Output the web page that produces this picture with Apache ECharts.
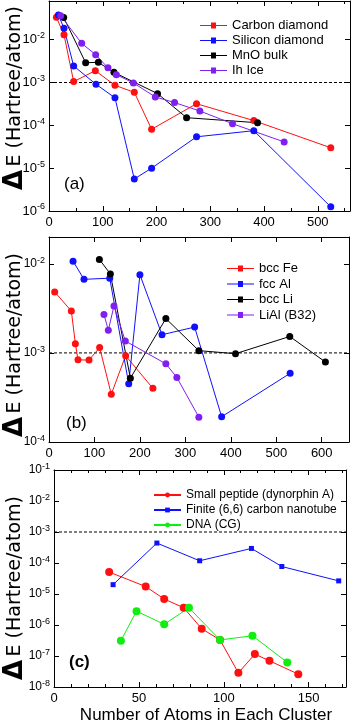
<!DOCTYPE html>
<html><head><meta charset="utf-8">
<script src="https://cdn.jsdelivr.net/npm/echarts@6/dist/echarts.min.js"></script>
<style>html,body{margin:0;padding:0;background:#fff}#c{width:351px;height:723px}</style>
</head><body><div id="c"></div>
<script>
// ---- Panel (a) ----
const carbonDiamond = [[13.8,0.0333],[27.9,0.0131],[45.9,1.05e-3],[86.2,1.89e-3],[122.7,8.6e-4],[158.7,5.9e-4],[190.9,8.1e-5],[274.5,3.2e-4],[381,1.29e-4],[524.2,3.0e-5]];
const siliconDiamond = [[17.5,0.0378],[27.9,0.0185],[45.9,2.43e-3],[87.4,9.1e-4],[122.7,4.4e-4],[158.7,5.6e-6],[190.9,1.0e-5],[274.5,5.4e-5],[381,7.5e-5],[524.2,1.25e-6]];
const mnoBulk = [[27.3,0.033],[68.2,2.9e-3],[91.8,2.96e-3],[120.8,1.73e-3],[202,5.5e-4],[256,1.51e-4],[388,1.15e-4]];
const ihIce = [[21.7,0.0364],[60.8,8.2e-3],[86.8,4.47e-3],[109.7,2.2e-3],[125.3,1.52e-3],[156.9,9.8e-4],[197.8,4.6e-4],[233.6,3.4e-4],[280.7,2.16e-4],[341.4,1.09e-4],[437.5,4.1e-5]];
// ---- Panel (b) ----
const bccFe = [[12.5,4.84e-3],[49.2,2.95e-3],[58,1.27e-3],[63.8,8.36e-4],[88,8.3e-4],[111.4,1.15e-3],[137,3.44e-4],[168.6,9.3e-4],[228.6,4.0e-4]];
const fccAl = [[52.9,0.0107],[77,6.7e-3],[133.6,6.9e-3],[175.4,4.5e-4],[200,7.55e-3],[248.6,1.6e-3],[320.4,1.95e-3],[379.8,1.92e-4],[530.5,5.9e-4]];
const bccLi = [[110.8,0.0112],[135,7.7e-3],[179,5.2e-4],[257.1,2.43e-3],[329.7,1.06e-3],[410.3,9.8e-4],[529.7,1.53e-3],[608.1,7.9e-4]];
const liAl = [[120.9,2.7e-3],[130.5,1.8e-3],[142.9,3.36e-3],[167.9,1.36e-3],[257.1,7.55e-4],[281.3,5.3e-4],[329.7,1.9e-4]];
// ---- Panel (c) ----
const peptide = [[32.5,5.1e-5],[54,1.74e-5],[64.9,6.9e-6],[76.4,3.6e-6],[87,7.6e-7],[97.8,3.3e-7],[108.6,2.86e-8],[118.3,1.15e-7],[126.9,7.0e-8],[143.9,2.6e-8]];
const nanotube = [[34.8,2.0e-5],[60.6,4.4e-4],[85.8,1.18e-4],[116.3,2.95e-4],[134.2,7.7e-5],[167.7,2.65e-5]];
const dna = [[39.4,3.1e-7],[48.6,2.8e-6],[64.9,1.05e-6],[79.5,3.6e-6],[97.8,3.3e-7],[116.9,4.5e-7],[137.4,6.2e-8]];

const threshold = 1e-3;
const xMaxA = 560, xMaxB = 660, xMaxC = 172;
const namesA = ['Carbon diamond','Silicon diamond','MnO bulk','Ih Ice'];
const namesB = ['bcc Fe','fcc Al','bcc Li','LiAl (B32)'];
const namesC = ['Small peptide (dynorphin A)','Finite (6,6) carbon nanotube','DNA (CG)'];
const xTitle = 'Number of Atoms in Each Cluster';

const RED='#ff1010', BLUE='#1010ff', BLACK='#000000', PURPLE='#8020f0', GREEN='#10ee10';
const FONT = '"Liberation Sans", Arial, Helvetica, sans-serif';
const LEG_ICON = 'path://M0,2.5h11v-2.5h5v2.5h11v1h-11v2.5h-5v-2.5h-11z';

const chart = echarts.init(document.getElementById('c'));

function xAx(grid, min, max, interval, minorSplit, show) {
  return {
    type:'value', gridIndex:grid, min:min, max:max, interval:interval,
    position: show ? 'bottom' : 'top',
    axisLine:{show:true, onZero:false, lineStyle:{color:'#000', width:1}},
    axisTick:{show:true, inside:true, length:5, lineStyle:{color:'#000'}},
    minorTick:{show: minorSplit>0, splitNumber: minorSplit||5, length:3, lineStyle:{color:'#000'}},
    splitLine:{show:false},
    axisLabel:{show:show, color:'#000', fontFamily:FONT, fontSize:13, margin:5, showMaxLabel:false}
  };
}
function yAx(grid, min, max, show, fs) {
  return {
    type:'log', logBase:10, gridIndex:grid, min:min, max:max, splitNumber:10,
    position: show ? 'left' : 'right',
    axisLine:{show:true, onZero:false, lineStyle:{color:'#000', width:1}},
    axisTick:{show:true, inside:true, length:5, lineStyle:{color:'#000'}},
    splitLine:{show:false},
    axisLabel:{show:show, margin:4, showMaxLabel: (Math.abs(Math.log10(max)-Math.round(Math.log10(max)))<1e-6),
      formatter:function(v){ const e=Math.round(Math.log10(v)); return '{a|10}{b|'+e+'}'; },
      rich:{a:{fontSize:fs, fontFamily:FONT, color:'#000', lineHeight:fs+4},
            b:{fontSize:9, fontFamily:FONT, color:'#000', verticalAlign:'top', lineHeight:fs+4}}}
  };
}
function ser(name, data, color, xi, yi, sym, size) {
  return {
    name:name, type:'line', data:data, xAxisIndex:xi, yAxisIndex:yi,
    symbol:sym, symbolSize:size, showSymbol:true,
    lineStyle:{color:color, width:1}, itemStyle:{color:color},
    emphasis:{disabled:true}, z:3
  };
}
function thresholdLine(xi, yi, xmax) {
  return {
    name:'threshold', type:'line', xAxisIndex:xi, yAxisIndex:yi,
    data:[[0, threshold],[xmax, threshold]], symbol:'none', silent:true,
    lineStyle:{color:'#000', width:1, type:[3,2]}, emphasis:{disabled:true}, z:2
  };
}
function legend(names, left, top, fs, gap, icon) {
  return {data:names.map(function(n){ return icon ? {name:n, icon:icon} : {name:n}; }),
    orient:'vertical', left:left, top:top, itemWidth:27, itemHeight:6,
    itemGap:gap, textStyle:{fontFamily:FONT, fontSize:fs, color:'#000', lineHeight:fs+2}, selectedMode:false};
}
function yTitle(x, y) {
  return {type:'text', x:x, y:y, rotation:Math.PI/2,
    style:{text:'{d|Δ} {e|E (Hartree/atom)}', textAlign:'center', textVerticalAlign:'middle',
      rich:{d:{fontSize:26, fontWeight:'bold', fontFamily:'"DejaVu Sans", sans-serif', fill:'#000'},
            e:{fontSize:19, fontFamily:'"DejaVu Sans", sans-serif', fill:'#000'}}}};
}
function panelLabel(t, x, y, bold) {
  return {type:'text', x:x, y:y, style:{text:t, fontSize:17, fontWeight: bold?'bold':'normal', fontFamily:FONT, fill:'#000', textAlign:'left', textVerticalAlign:'middle'}};
}

const option = {
  animation:false,
  backgroundColor:'#fff',
  grid:[
    {left:49, top:1, width:301, height:210},
    {left:49, top:237, width:300, height:205},
    {left:54, top:470, width:292, height:217}
  ],
  xAxis:[
    xAx(0,0,xMaxA,100,2,true), xAx(0,0,xMaxA,100,2,false),
    xAx(1,0,xMaxB,100,0,true), xAx(1,0,xMaxB,100,0,false),
    xAx(2,0,xMaxC,50,5,true), xAx(2,0,xMaxC,50,5,false)
  ],
  yAxis:[
    yAx(0,1e-6,0.08,true,13), yAx(0,1e-6,0.08,false,13),
    yAx(1,1e-4,0.02,true,12), yAx(1,1e-4,0.02,false,12),
    yAx(2,1e-8,0.1,true,12), yAx(2,1e-8,0.1,false,12)
  ],
  legend:[
    legend(namesA, 195, 13, 13, 0, LEG_ICON),
    legend(namesB, 222, 256, 13, 0.5, LEG_ICON),
    legend(namesC, 148, 483, 12, 1, null)
  ],
  graphic:[
    yTitle(15, 98), yTitle(15, 345), yTitle(15, 588),
    panelLabel('(a)', 64, 184, false), panelLabel('(b)', 66, 423, false), panelLabel('(c)', 69, 662, true),
    {type:'text', x:206, y:715, style:{text:xTitle, fontSize:17, fontFamily:FONT, fill:'#000', textAlign:'center', textVerticalAlign:'middle'}}
  ],
  series:[
    thresholdLine(0,0,xMaxA), thresholdLine(2,2,xMaxB), thresholdLine(4,4,xMaxC),
    ser(namesA[0], carbonDiamond, RED, 0,0,'circle',7),
    ser(namesA[1], siliconDiamond, BLUE, 0,0,'circle',7),
    ser(namesA[2], mnoBulk, BLACK, 0,0,'circle',7),
    ser(namesA[3], ihIce, PURPLE, 0,0,'circle',7),
    ser(namesB[0], bccFe, RED, 2,2,'circle',7),
    ser(namesB[1], fccAl, BLUE, 2,2,'circle',7),
    ser(namesB[2], bccLi, BLACK, 2,2,'circle',7),
    ser(namesB[3], liAl, PURPLE, 2,2,'circle',7),
    ser(namesC[0], peptide, RED, 4,4,'circle',8),
    ser(namesC[1], nanotube, BLUE, 4,4,'rect',5),
    ser(namesC[2], dna, GREEN, 4,4,'circle',8)
  ]
};
chart.setOption(option);
</script></body></html>
